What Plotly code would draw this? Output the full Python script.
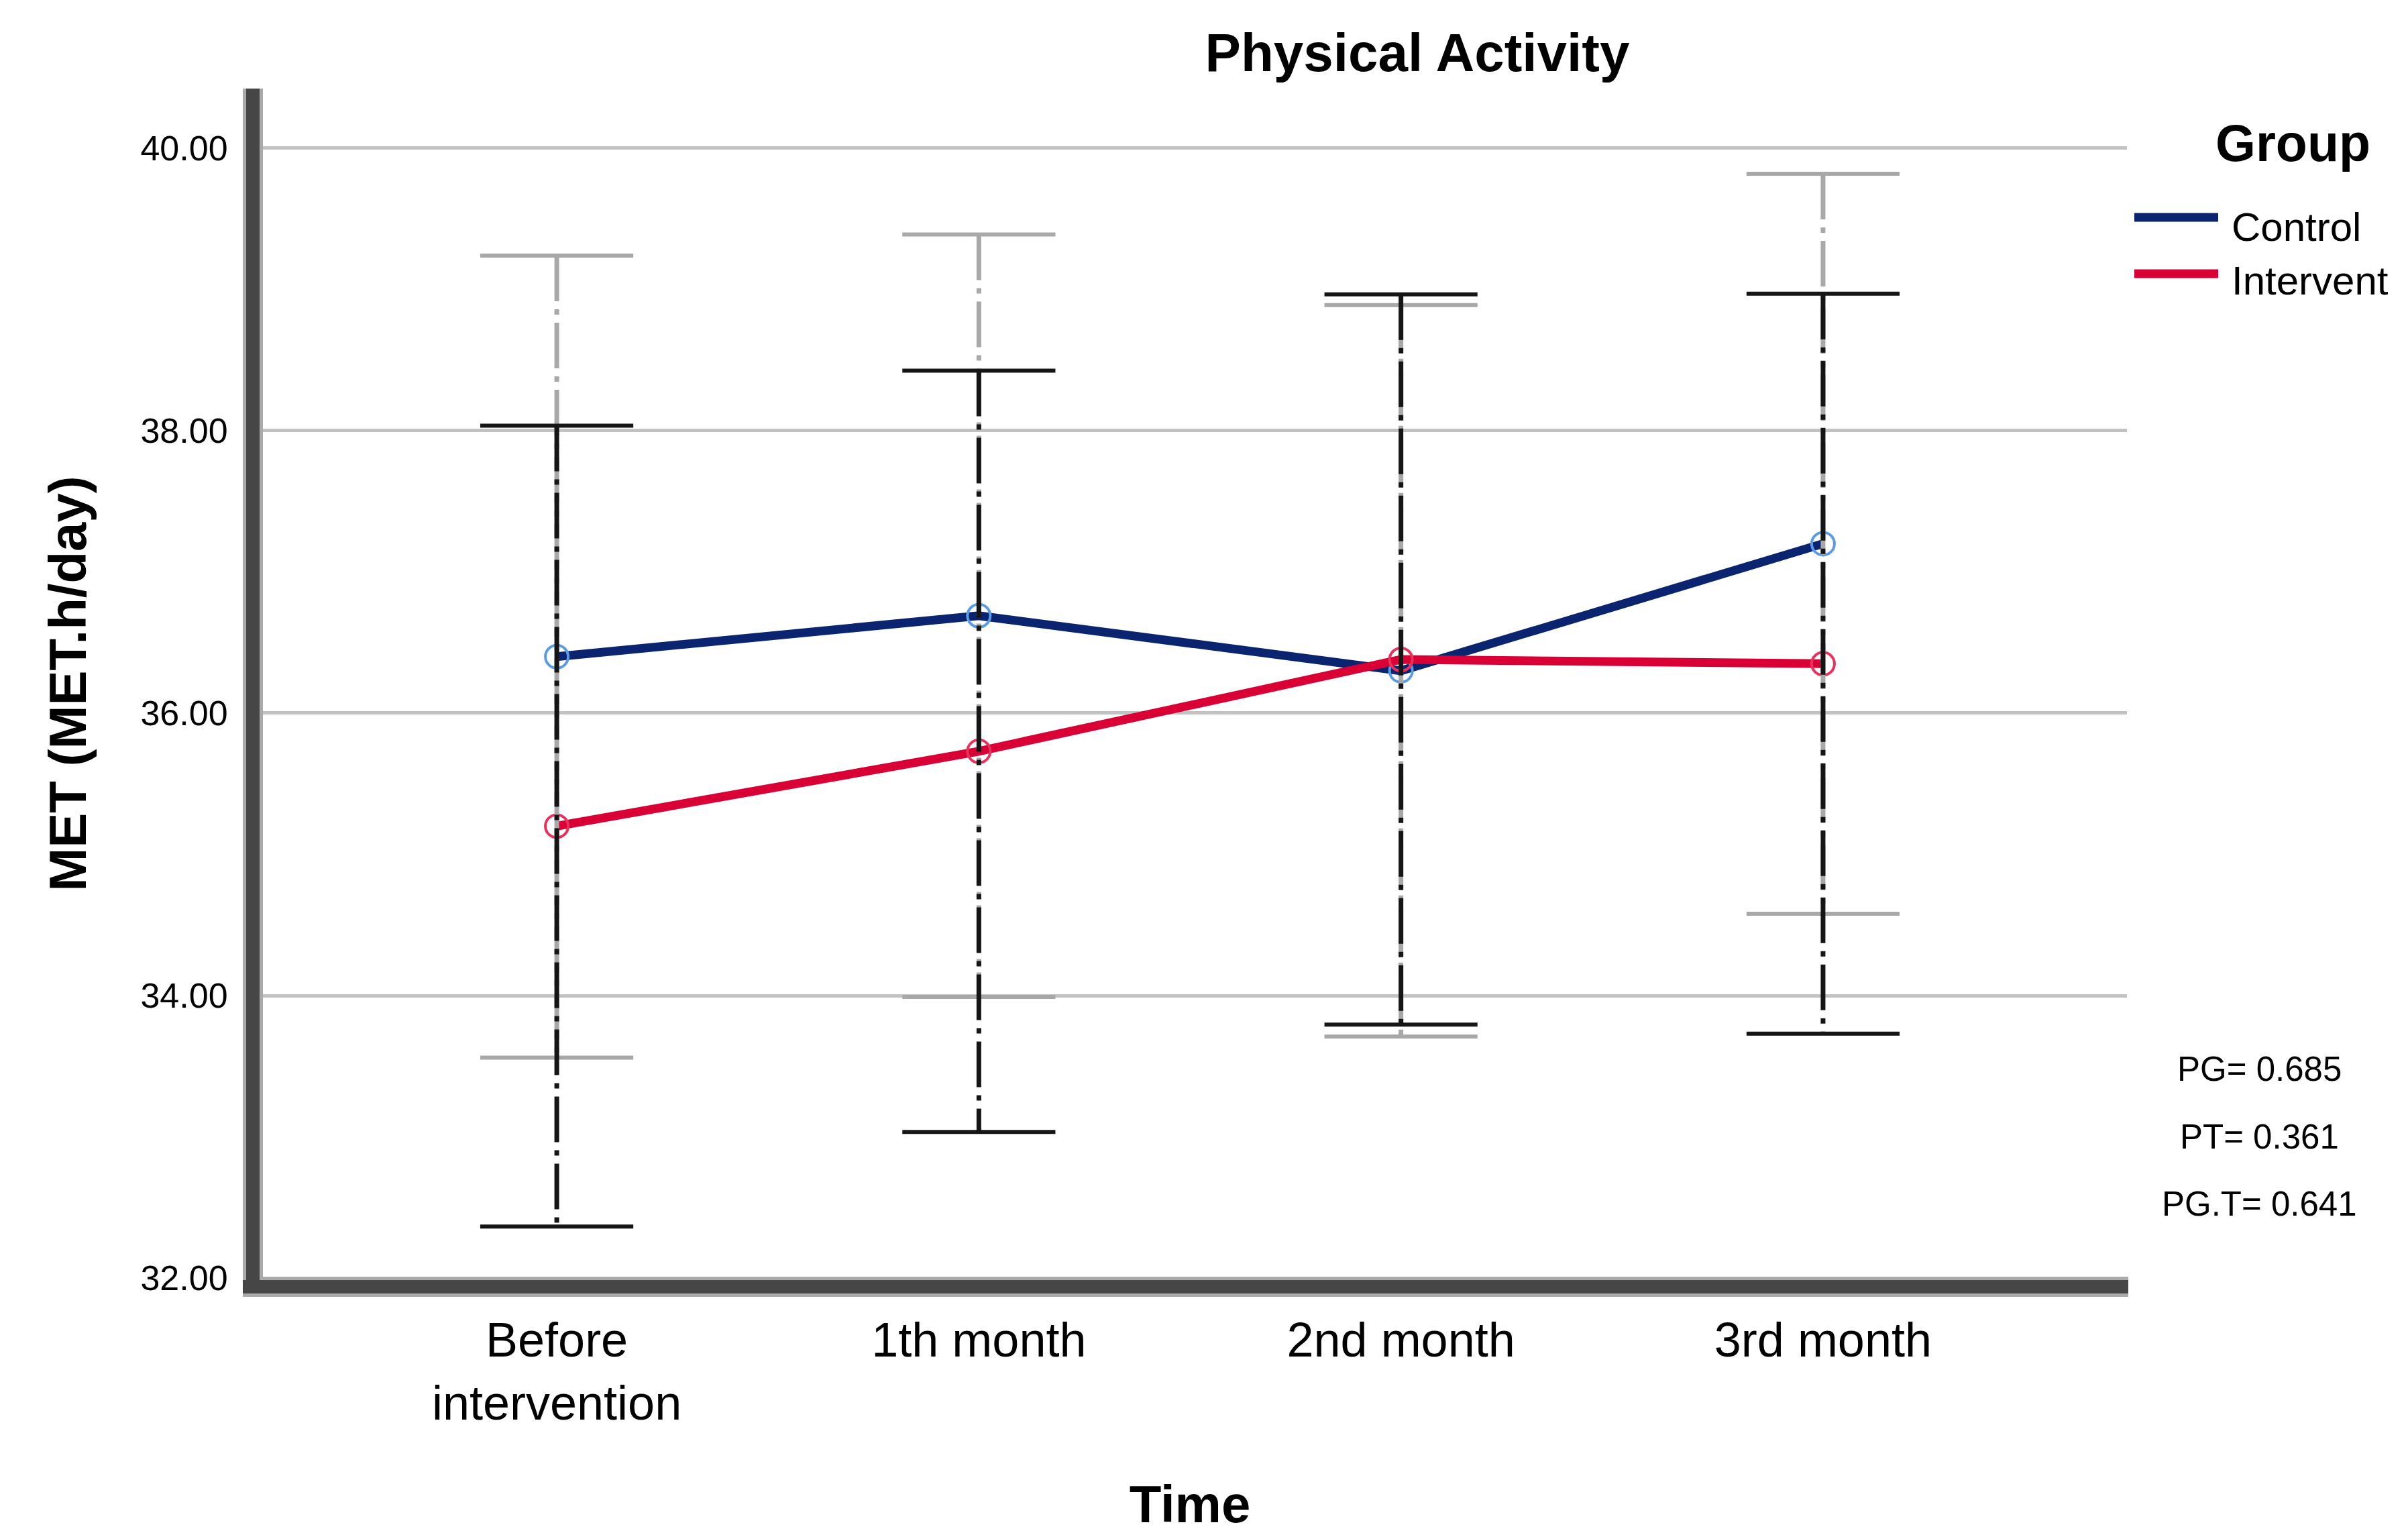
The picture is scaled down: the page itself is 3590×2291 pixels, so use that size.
import plotly.graph_objects as go

# ---------------- data ----------------
categories = ["Before<br>intervention", "1th month", "2nd month", "3rd month"]
control_mean = [36.40, 36.69, 36.30, 37.20]
control_err = [2.84, 2.70, 2.59, 2.62]
intervent_mean = [35.20, 35.73, 36.38, 36.35]
intervent_err = [2.835, 2.695, 2.585, 2.62]
y_ticks = [32, 34, 36, 38, 40]
group_names = ["Control", "Intervent"]
p_labels = ["PG= 0.685", "PT= 0.361", "PG.T= 0.641"]

# ---------------- styles ----------------
FONT = "Liberation Sans, Arial, sans-serif"
line_colors = ["#0B2470", "#D80035"]
marker_colors = ["#5B9BE6", "#E8325C"]
bar_colors = ["#A8A8A8", "#151515"]

W, H = 3590, 2291
OFF = 8  # page body margin
ML, MT = 377 - OFF, 133 - OFF
PW, PH = 2794, 1772
MR, MB = W - ML - PW, H - MT - PH

fig = go.Figure()

means = [control_mean, intervent_mean]
errs = [control_err, intervent_err]

# mean lines with open circle markers
for i, name in enumerate(group_names):
    fig.add_trace(go.Scatter(
        x=categories, y=means[i], mode="lines+markers", name=name,
        line=dict(color=line_colors[i], width=13),
        marker=dict(symbol="circle-open", size=34, color=marker_colors[i],
                    line=dict(color=marker_colors[i], width=4)),
        showlegend=False,
    ))

# error bars (dash-dot vertical lines + caps)
for i, name in enumerate(group_names):
    hi = [m + e for m, e in zip(means[i], errs[i])]
    lo = [m - e for m, e in zip(means[i], errs[i])]
    xs, ys = [], []
    for c, h, l in zip(categories, hi, lo):
        xs += [c, c, None]
        ys += [h, l, None]
    fig.add_trace(go.Scatter(
        x=xs, y=ys, mode="lines", showlegend=False, hoverinfo="skip",
        line=dict(color=bar_colors[i], width=7, dash="68px,12px,8px,12px"),
    ))
    fig.add_trace(go.Scatter(
        x=categories + categories, y=hi + lo, mode="markers",
        showlegend=False, hoverinfo="skip",
        marker=dict(symbol="line-ew", size=163, color=bar_colors[i],
                    line=dict(color=bar_colors[i], width=6)),
    ))

# pixel (screen) -> paper helpers
def px_x(px):
    return (px - OFF - ML) / PW

def px_y(py):
    return (MT + PH - (py - OFF)) / PH

shapes = []
for color, w in [("#AAAAAA", 30), ("#464646", 20)]:
    shapes.append(dict(type="line", xref="paper", yref="paper",
                       x0=px_x(377), x1=px_x(377), y0=px_y(1928), y1=px_y(132),
                       line=dict(color=color, width=w)))
    shapes.append(dict(type="line", xref="paper", yref="paper",
                       x0=px_x(362), x1=px_x(3173), y0=px_y(1918), y1=px_y(1918),
                       line=dict(color=color, width=w)))

# manual legend
legend_y = [324, 408]
legend_text_y = [338, 418]
annotations = []
for i, name in enumerate(group_names):
    shapes.append(dict(type="line", xref="paper", yref="paper",
                       x0=px_x(3182), x1=px_x(3307),
                       y0=px_y(legend_y[i]), y1=px_y(legend_y[i]),
                       line=dict(color=line_colors[i], width=13)))
    annotations.append(dict(xref="paper", yref="paper", x=px_x(3325),
                            y=px_y(legend_text_y[i]), xanchor="left", yanchor="middle",
                            text=name, showarrow=False,
                            font=dict(family=FONT, size=60, color="#000")))
annotations.append(dict(xref="paper", yref="paper", x=px_x(3418), y=px_y(213),
                        xanchor="center", yanchor="middle", text="<b>Group</b>",
                        showarrow=False, font=dict(family=FONT, size=77, color="#000")))

# p-values
p_y = [1593, 1694, 1794]
for t, py in zip(p_labels, p_y):
    annotations.append(dict(xref="paper", yref="paper", x=px_x(3368), y=px_y(py),
                            xanchor="center", yanchor="middle", text=t,
                            showarrow=False, font=dict(family=FONT, size=51, color="#000")))

fig.update_layout(
    width=W, height=H,
    margin=dict(l=ML, r=MR, t=MT, b=MB),
    paper_bgcolor="white", plot_bgcolor="white",
    font=dict(family=FONT, color="#000"),
    title=dict(text="<b>Physical Activity</b>", x=(2113 - OFF) / W, xref="container",
               y=1 - (78 - OFF) / H, yref="container", xanchor="center", yanchor="middle",
               font=dict(family=FONT, size=80, color="#000")),
    xaxis=dict(type="category", categoryorder="array", categoryarray=categories,
               range=[-0.72, 3.72], showgrid=False, zeroline=False, showline=False,
               ticks="outside", ticklen=30, tickcolor="rgba(0,0,0,0)",
               tickfont=dict(family=FONT, size=72, color="#000"),
               title=dict(text="<b>Time</b>", standoff=84,
                          font=dict(family=FONT, size=78, color="#000"))),
    yaxis=dict(range=[32, 40.418], tickvals=y_ticks, tickformat=".2f",
               showgrid=True, gridcolor="#C2C2C2", gridwidth=5,
               zeroline=False, showline=False,
               ticks="outside", ticklen=26, tickcolor="rgba(0,0,0,0)",
               tickfont=dict(family=FONT, size=52, color="#000"),
               title=dict(text="<b>MET (MET.h/day)</b>", standoff=55,
                          font=dict(family=FONT, size=78, color="#000"))),
    shapes=shapes,
    annotations=annotations,
    showlegend=False,
)

fig.write_html("out.html")
